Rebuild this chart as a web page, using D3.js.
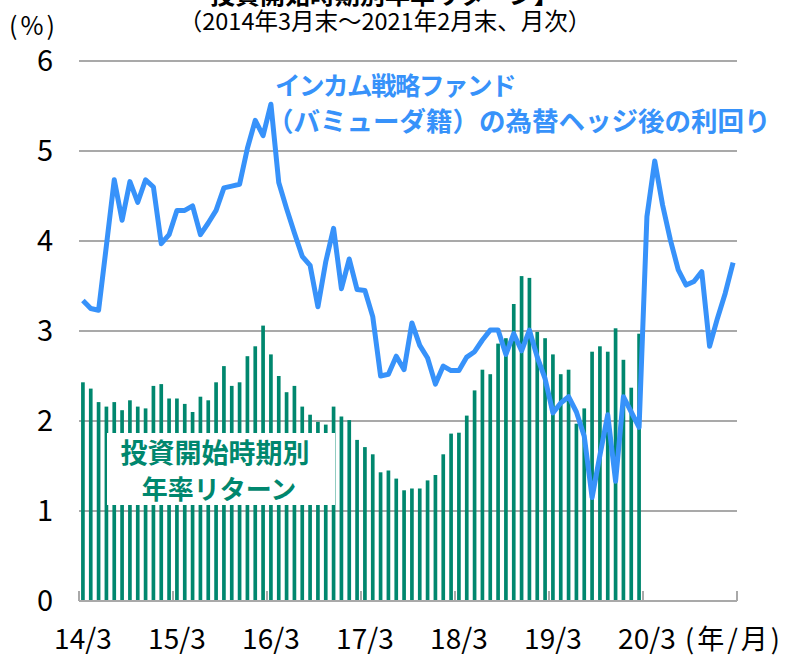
<!DOCTYPE html>
<html>
<head>
<meta charset="utf-8">
<script src="https://cdn.jsdelivr.net/npm/d3@7"></script>
<style>
  body { margin: 0; background: #fff; }
  text { font-family: "Noto Sans CJK JP", "Noto Sans", sans-serif; }
</style>
</head>
<body>
<div id="chart"></div>
<script>
// month labels 14/3 .. 21/2
const months = [];
for (let i = 0; i < 84; i++) {
    const m = (2 + i) % 12 + 1;
    const yr = 14 + Math.floor((2 + i) / 12);
    months.push(`${yr}/${m}`);
}

// annualised return by start month (14/3 .. 20/2)
const returns = [
    2.43, 2.36, 2.21, 2.16, 2.21, 2.12, 2.23, 2.16, 2.14, 2.39, 2.41, 2.25,
    2.25, 2.19, 2.10, 2.27, 2.23, 2.43, 2.61, 2.39, 2.43, 2.72, 2.83, 3.06,
    2.74, 2.50, 2.32, 2.39, 2.16, 2.07, 1.99, 1.96, 2.16, 2.05, 2.01, 1.79,
    1.71, 1.63, 1.43, 1.45, 1.36, 1.23, 1.25, 1.25, 1.34, 1.40, 1.63, 1.86,
    1.87, 2.06, 2.34, 2.57, 2.52, 2.86, 2.92, 3.30, 3.61, 3.59, 2.99, 2.92,
    2.74, 2.52, 2.57, 1.97, 2.14, 2.77, 2.83, 2.77, 3.03, 2.68, 2.37, 2.97
];

// hedged yield (14/3 .. 21/2)
const yields = [
    3.34, 3.25, 3.23, 3.95, 4.68, 4.23, 4.66, 4.43, 4.68, 4.60, 3.97, 4.07,
    4.34, 4.34, 4.39, 4.07, 4.20, 4.34, 4.59, 4.61, 4.63, 5.03, 5.34, 5.17,
    5.52, 4.65, 4.36, 4.09, 3.83, 3.73, 3.27, 3.77, 4.14, 3.47, 3.80, 3.46,
    3.45, 3.16, 2.50, 2.52, 2.72, 2.57, 3.09, 2.84, 2.70, 2.41, 2.61, 2.56,
    2.56, 2.71, 2.77, 2.90, 3.01, 3.01, 2.74, 2.97, 2.78, 3.01, 2.71, 2.47,
    2.09, 2.20, 2.27, 2.10, 1.83, 1.15, 1.62, 2.07, 1.33, 2.27, 2.10, 1.93,
    4.27, 4.89, 4.40, 4.01, 3.68, 3.51, 3.55, 3.66, 2.83, 3.14, 3.42, 3.76
];

const yTicks = [0, 1, 2, 3, 4, 5, 6];
const xLabels = ['14/3', '15/3', '16/3', '17/3', '18/3', '19/3', '20/3'];

const barColor = '#00876e';
const lineColor = '#3792fa';
const gridColor = '#a9a9a9';

const svg = d3.select('#chart').append('svg')
    .attr('width', 793)
    .attr('height', 658);

const x = d3.scaleBand().domain(months).range([79, 737]);
const y = d3.scaleLinear().domain([0, 6]).range([601, 61]);

// gridlines
svg.append('g')
    .selectAll('line')
    .data(yTicks.filter(d => d > 0))
    .enter().append('line')
    .attr('x1', 79)
    .attr('x2', 737)
    .attr('y1', d => y(d))
    .attr('y2', d => y(d))
    .attr('stroke', gridColor)
    .attr('stroke-width', 2);

// y labels
svg.append('g')
    .selectAll('text')
    .data(yTicks)
    .enter().append('text')
    .attr('x', 53)
    .attr('y', d => y(d))
    .attr('dy', '0.36em')
    .attr('text-anchor', 'end')
    .attr('font-size', 29)
    .attr('fill', '#000')
    .text(d => d);

// bars
const bw = x.bandwidth() * 0.47;
svg.append('g')
    .selectAll('rect')
    .data(returns)
    .enter().append('rect')
    .attr('x', (d, i) => x(months[i]) + (x.bandwidth() - bw) / 2)
    .attr('y', d => y(d))
    .attr('width', bw)
    .attr('height', d => y(0) - y(d))
    .attr('fill', barColor);

// x axis
const xAxis = d3.axisBottom(x)
    .tickValues(xLabels)
    .tickSize(0)
    .tickPadding(28);

const gx = svg.append('g')
    .attr('transform', `translate(0,${y(0)})`)
    .call(xAxis);
gx.select('.domain').remove();
gx.selectAll('text')
    .attr('font-size', 28)
    .attr('fill', '#000')
    .style('font-family', '"Noto Sans CJK JP", sans-serif');

svg.append('line')
    .attr('x1', 79)
    .attr('x2', 737)
    .attr('y1', y(0))
    .attr('y2', y(0))
    .attr('stroke', gridColor)
    .attr('stroke-width', 2);

// tick marks at year boundaries
const bounds = months.filter((d, i) => i % 12 === 0).map(d => x(d)).concat([x.range()[1]]);
svg.append('g')
    .selectAll('line')
    .data(bounds)
    .enter().append('line')
    .attr('x1', d => d)
    .attr('x2', d => d)
    .attr('y1', y(0))
    .attr('y2', y(0) - 10)
    .attr('stroke', gridColor)
    .attr('stroke-width', 2);

svg.append('text')
    .attr('x', 685)
    .attr('y', 649)
    .attr('font-size', 27)
    .attr('letter-spacing', 3)
    .attr('fill', '#000')
    .text('(年/月)');

// yield line
const line = d3.line()
    .x((d, i) => x(months[i]) + x.bandwidth() / 2)
    .y(d => y(d));

svg.append('path')
    .datum(yields)
    .attr('fill', 'none')
    .attr('stroke', lineColor)
    .attr('stroke-width', 5)
    .attr('stroke-linejoin', 'round')
    .attr('d', line);

// green label box
svg.append('rect')
    .attr('x', 107)
    .attr('y', 433)
    .attr('width', 228)
    .attr('height', 72)
    .attr('fill', '#fff');

svg.append('text')
    .attr('x', 215)
    .attr('y', 463)
    .attr('text-anchor', 'middle')
    .attr('font-size', 27)
    .attr('font-weight', 'bold')
    .attr('fill', barColor)
    .text('投資開始時期別');

svg.append('text')
    .attr('x', 219)
    .attr('y', 499)
    .attr('text-anchor', 'middle')
    .attr('font-size', 26)
    .attr('font-weight', 'bold')
    .attr('fill', barColor)
    .text('年率リターン');

// blue label
svg.append('text')
    .attr('x', 275)
    .attr('y', 95)
    .attr('font-size', 25.5)
    .attr('font-weight', 'bold')
    .attr('letter-spacing', -1.5)
    .attr('fill', lineColor)
    .text('インカム戦略ファンド');

svg.append('text')
    .attr('x', 267)
    .attr('y', 131)
    .attr('font-size', 26.5)
    .attr('font-weight', 'bold')
    .attr('fill', lineColor)
    .text('（バミューダ籍）の為替ヘッジ後の利回り');

// titles (top one is cut off by the frame, as in the source)
svg.append('text')
    .attr('x', 210)
    .attr('y', 4)
    .attr('font-size', 25)
    .attr('font-weight', 'bold')
    .attr('fill', '#000')
    .text('投資開始時期別年率リターン】');

svg.append('text')
    .attr('x', 385)
    .attr('y', 30)
    .attr('text-anchor', 'middle')
    .attr('font-size', 23.5)
    .attr('fill', '#000')
    .text('（2014年3月末～2021年2月末、月次）');

svg.append('text')
    .attr('x', 9)
    .attr('y', 35)
    .attr('font-size', 25)
    .attr('letter-spacing', 3)
    .attr('fill', '#000')
    .text('(%)');
</script>
</body>
</html>
